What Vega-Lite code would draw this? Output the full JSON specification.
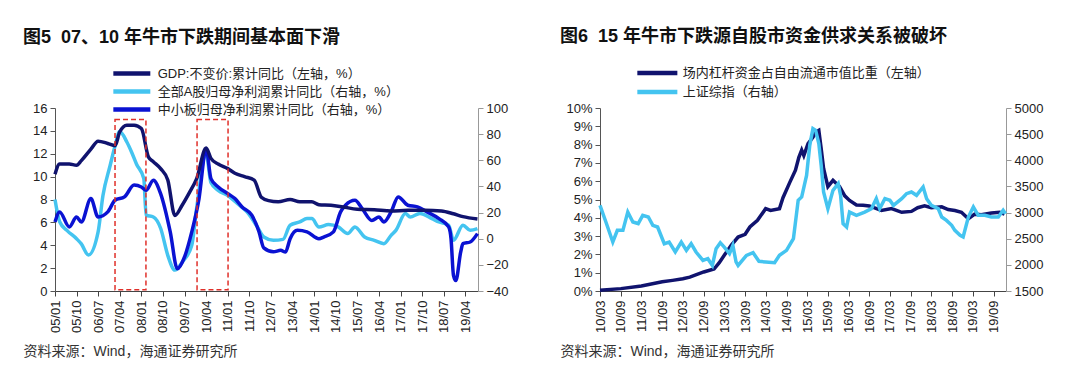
{
"$schema":"https://vega.github.io/schema/vega-lite/v6.json",
"background":"white",
"padding":{"left":23,"top":27,"right":10,"bottom":5},
"bounds":"flush",
"spacing":122,
"resolve":{"scale":{"x":"independent","y":"independent","color":"independent"},"legend":{"color":"independent"}},
"config":{
 "font":"Liberation Sans, Noto Sans CJK SC",
 "view":{"stroke":null},
 "axis":{"grid":false,"labelFont":"Liberation Sans","labelFontSize":13,"labelColor":"#222","domainColor":"#555","tickColor":"#555","tickSize":5,"labelPadding":3,"labelOverlap":false},
 "legend":{"orient":"none","title":null,"symbolStrokeWidth":4.5,"labelFont":"Liberation Sans, Noto Sans CJK SC","labelFontSize":13,"labelColor":"#222","labelLimit":400},
 "title":{"anchor":"start","frame":"group","fontSize":18,"fontWeight":"bold","color":"#111","font":"Liberation Sans, Noto Sans CJK SC"}
},
"datasets":{
 "gdp":[{"d":"2005/01/01","v":10.2},{"d":"2005/03/01","v":11.1},{"d":"2005/07/01","v":11.1},{"d":"2005/10/01","v":11.0},{"d":"2005/12/01","v":11.4},{"d":"2006/04/01","v":12.4},{"d":"2006/07/01","v":13.1},{"d":"2006/11/01","v":12.9},{"d":"2007/02/01","v":12.7},{"d":"2007/04/01","v":13.9},{"d":"2007/07/01","v":14.5},{"d":"2007/10/01","v":14.5},{"d":"2008/01/01","v":14.2},{"d":"2008/04/01","v":11.7},{"d":"2008/06/01","v":11.3},{"d":"2008/09/01","v":10.7},{"d":"2008/12/01","v":9.7},{"d":"2009/03/01","v":6.6},{"d":"2009/06/01","v":7.5},{"d":"2009/09/01","v":8.6},{"d":"2009/12/01","v":9.8},{"d":"2010/04/01","v":12.5},{"d":"2010/06/01","v":11.6},{"d":"2010/09/01","v":11.1},{"d":"2011/01/01","v":10.7},{"d":"2011/04/01","v":10.3},{"d":"2011/08/01","v":10.0},{"d":"2011/12/01","v":9.7},{"d":"2012/03/01","v":8.2},{"d":"2012/06/01","v":7.9},{"d":"2012/10/01","v":7.8},{"d":"2013/03/01","v":8.0},{"d":"2013/07/01","v":7.8},{"d":"2013/12/01","v":7.8},{"d":"2014/03/01","v":7.55},{"d":"2014/08/01","v":7.5},{"d":"2015/01/01","v":7.35},{"d":"2015/07/01","v":7.15},{"d":"2016/02/01","v":7.1},{"d":"2016/09/01","v":7.0},{"d":"2017/04/01","v":7.05},{"d":"2017/11/01","v":7.05},{"d":"2018/06/01","v":7.0},{"d":"2018/11/01","v":6.75},{"d":"2019/03/01","v":6.5},{"d":"2019/09/01","v":6.3}],
 "allA":[{"d":"2005/01/01","v":30},{"d":"2005/03/01","v":13},{"d":"2005/06/01","v":6.4},{"d":"2005/10/01","v":0},{"d":"2005/12/01","v":-4},{"d":"2006/03/01","v":-12.5},{"d":"2006/07/01","v":5},{"d":"2006/09/01","v":33},{"d":"2006/12/01","v":56},{"d":"2007/02/01","v":71},{"d":"2007/04/01","v":82},{"d":"2007/07/01","v":74},{"d":"2007/09/01","v":66},{"d":"2007/11/01","v":57},{"d":"2008/02/01","v":46},{"d":"2008/03/01","v":18},{"d":"2008/06/01","v":16.6},{"d":"2008/09/01","v":8},{"d":"2008/12/01","v":-12.7},{"d":"2009/03/01","v":-24},{"d":"2009/06/01","v":-18},{"d":"2009/10/01","v":-5},{"d":"2009/12/01","v":23},{"d":"2010/04/01","v":65},{"d":"2010/06/01","v":43},{"d":"2010/09/01","v":37},{"d":"2011/01/01","v":33},{"d":"2011/05/01","v":27},{"d":"2011/09/01","v":20.5},{"d":"2012/01/01","v":10},{"d":"2012/04/01","v":1.3},{"d":"2012/08/01","v":-1.2},{"d":"2012/12/01","v":-0.5},{"d":"2013/03/01","v":10.3},{"d":"2013/07/01","v":12.8},{"d":"2013/10/01","v":15.4},{"d":"2013/12/01","v":15.4},{"d":"2014/03/01","v":9},{"d":"2014/07/01","v":10.8},{"d":"2014/11/01","v":9},{"d":"2015/03/01","v":3.9},{"d":"2015/06/01","v":9},{"d":"2015/10/01","v":1.3},{"d":"2016/02/01","v":-1.2},{"d":"2016/06/01","v":-3.8},{"d":"2016/09/01","v":2.6},{"d":"2016/11/01","v":6.4},{"d":"2017/03/01","v":19.2},{"d":"2017/05/01","v":16.6},{"d":"2017/09/01","v":19.2},{"d":"2018/02/01","v":15.4},{"d":"2018/05/01","v":12.8},{"d":"2018/09/01","v":10.3},{"d":"2018/11/01","v":-1.2},{"d":"2019/03/01","v":10.3},{"d":"2019/06/01","v":6.4},{"d":"2019/09/01","v":7.7}],
 "sme":[{"d":"2005/01/01","v":12.8},{"d":"2005/03/01","v":20.5},{"d":"2005/07/01","v":9},{"d":"2005/10/01","v":16.6},{"d":"2005/12/01","v":12.8},{"d":"2006/04/01","v":30.7},{"d":"2006/07/01","v":16.6},{"d":"2006/11/01","v":20.5},{"d":"2007/02/01","v":29.4},{"d":"2007/06/01","v":32},{"d":"2007/10/01","v":41},{"d":"2008/01/01","v":39.6},{"d":"2008/03/01","v":37},{"d":"2008/06/01","v":44.7},{"d":"2008/09/01","v":34.5},{"d":"2009/01/01","v":5.2},{"d":"2009/04/01","v":-23},{"d":"2009/07/01","v":-14},{"d":"2009/10/01","v":5.2},{"d":"2010/01/01","v":30.7},{"d":"2010/04/01","v":69},{"d":"2010/06/01","v":46},{"d":"2010/09/01","v":39.6},{"d":"2011/01/01","v":34.5},{"d":"2011/04/01","v":30.7},{"d":"2011/07/01","v":24.3},{"d":"2011/11/01","v":18},{"d":"2012/02/01","v":5.2},{"d":"2012/04/01","v":-7},{"d":"2012/08/01","v":-10},{"d":"2012/11/01","v":-8.9},{"d":"2013/01/01","v":-10.2},{"d":"2013/03/01","v":0},{"d":"2013/06/01","v":6.4},{"d":"2013/10/01","v":5.2},{"d":"2014/03/01","v":0},{"d":"2014/05/01","v":1.3},{"d":"2014/09/01","v":5.2},{"d":"2014/12/01","v":20.5},{"d":"2015/02/01","v":25.6},{"d":"2015/06/01","v":29.4},{"d":"2015/09/01","v":23},{"d":"2016/01/01","v":14},{"d":"2016/04/01","v":16.6},{"d":"2016/06/01","v":12.8},{"d":"2016/09/01","v":20.5},{"d":"2016/12/01","v":32},{"d":"2017/04/01","v":25.6},{"d":"2017/08/01","v":24.3},{"d":"2017/12/01","v":20.5},{"d":"2018/05/01","v":15.4},{"d":"2018/09/01","v":9},{"d":"2018/10/01","v":0},{"d":"2018/11/01","v":-28},{"d":"2018/12/01","v":-32},{"d":"2019/02/01","v":-10},{"d":"2019/03/01","v":-3.8},{"d":"2019/06/01","v":-2.5},{"d":"2019/09/01","v":3.9}],
 "boxes":[{"a":"2007/02/01","b":"2008/02/28","lo":0.1,"hi":15},{"a":"2009/12/07","b":"2011/01/04","lo":0.1,"hi":15}],
 "lev":[{"d":"2010/03/01","v":0.04},{"d":"2010/09/01","v":0.13},{"d":"2011/03/01","v":0.27},{"d":"2011/09/01","v":0.5},{"d":"2011/12/01","v":0.58},{"d":"2012/03/01","v":0.67},{"d":"2012/05/01","v":0.76},{"d":"2012/09/01","v":1.04},{"d":"2012/12/01","v":1.2},{"d":"2013/01/16","v":1.55},{"d":"2013/03/01","v":1.95},{"d":"2013/05/01","v":2.5},{"d":"2013/07/01","v":2.95},{"d":"2013/09/01","v":3.1},{"d":"2013/10/13","v":3.5},{"d":"2013/12/19","v":3.86},{"d":"2014/03/01","v":4.5},{"d":"2014/04/13","v":4.4},{"d":"2014/07/01","v":4.5},{"d":"2014/08/01","v":5.1},{"d":"2014/10/01","v":5.95},{"d":"2014/11/19","v":6.6},{"d":"2014/12/19","v":7.3},{"d":"2015/01/13","v":7.7},{"d":"2015/02/01","v":7.4},{"d":"2015/03/10","v":8.05},{"d":"2015/04/22","v":8.4},{"d":"2015/05/22","v":8.7},{"d":"2015/06/13","v":8.78},{"d":"2015/07/04","v":7.78},{"d":"2015/07/25","v":6.7},{"d":"2015/09/01","v":5.7},{"d":"2015/10/16","v":6.05},{"d":"2015/12/13","v":5.7},{"d":"2016/01/28","v":5.2},{"d":"2016/03/10","v":4.95},{"d":"2016/05/10","v":4.7},{"d":"2016/07/07","v":4.68},{"d":"2016/09/01","v":4.65},{"d":"2016/12/16","v":4.4},{"d":"2017/03/16","v":4.5},{"d":"2017/06/13","v":4.3},{"d":"2017/09/07","v":4.35},{"d":"2017/11/01","v":4.55},{"d":"2018/01/01","v":4.65},{"d":"2018/03/01","v":4.55},{"d":"2018/06/01","v":4.6},{"d":"2018/07/28","v":4.45},{"d":"2018/09/25","v":4.4},{"d":"2018/11/22","v":4.3},{"d":"2019/01/22","v":3.95},{"d":"2019/03/19","v":4.2},{"d":"2019/05/16","v":4.17},{"d":"2019/08/13","v":4.26},{"d":"2019/10/25","v":4.3},{"d":"2019/12/07","v":4.2}],
 "sh":[{"d":"2010/03/01","v":3138},{"d":"2010/04/22","v":2820},{"d":"2010/06/22","v":2437},{"d":"2010/08/01","v":2660},{"d":"2010/09/19","v":2660},{"d":"2010/11/01","v":3010},{"d":"2010/12/16","v":2820},{"d":"2011/02/01","v":2790},{"d":"2011/03/13","v":2947},{"d":"2011/05/01","v":2915},{"d":"2011/06/10","v":2756},{"d":"2011/07/22","v":2724},{"d":"2011/09/19","v":2405},{"d":"2011/11/01","v":2437},{"d":"2011/12/25","v":2246},{"d":"2012/02/16","v":2437},{"d":"2012/04/01","v":2278},{"d":"2012/05/13","v":2405},{"d":"2012/06/25","v":2246},{"d":"2012/08/25","v":2086},{"d":"2012/10/07","v":2118},{"d":"2012/11/16","v":1990},{"d":"2012/12/19","v":2310},{"d":"2013/01/25","v":2424},{"d":"2013/03/01","v":2340},{"d":"2013/04/16","v":2214},{"d":"2013/05/16","v":2373},{"d":"2013/06/13","v":2055},{"d":"2013/07/01","v":1990},{"d":"2013/09/13","v":2182},{"d":"2013/11/10","v":2233},{"d":"2014/01/01","v":2067},{"d":"2014/03/01","v":2055},{"d":"2014/05/19","v":2042},{"d":"2014/07/01","v":2182},{"d":"2014/09/01","v":2278},{"d":"2014/11/01","v":2500},{"d":"2014/12/13","v":3234},{"d":"2015/01/13","v":3300},{"d":"2015/02/25","v":3712},{"d":"2015/03/25","v":4286},{"d":"2015/04/22","v":4605},{"d":"2015/05/16","v":4573},{"d":"2015/06/13","v":4318},{"d":"2015/07/04","v":3900},{"d":"2015/07/25","v":3393},{"d":"2015/09/01","v":3075},{"d":"2015/10/16","v":3425},{"d":"2015/12/01","v":3553},{"d":"2015/12/22","v":3330},{"d":"2016/01/13","v":2788},{"d":"2016/02/13","v":2724},{"d":"2016/03/10","v":3010},{"d":"2016/05/10","v":2947},{"d":"2016/07/22","v":3010},{"d":"2016/09/19","v":3075},{"d":"2016/11/01","v":3266},{"d":"2016/12/01","v":3075},{"d":"2017/01/16","v":3266},{"d":"2017/03/01","v":3234},{"d":"2017/04/01","v":3138},{"d":"2017/06/13","v":3266},{"d":"2017/07/25","v":3361},{"d":"2017/09/07","v":3393},{"d":"2017/10/22","v":3330},{"d":"2017/12/19","v":3490},{"d":"2018/01/19","v":3266},{"d":"2018/03/01","v":3138},{"d":"2018/05/01","v":3075},{"d":"2018/06/01","v":2915},{"d":"2018/07/13","v":2851},{"d":"2018/08/28","v":2756},{"d":"2018/09/25","v":2660},{"d":"2018/11/10","v":2565},{"d":"2018/12/07","v":2533},{"d":"2019/01/22","v":2915},{"d":"2019/03/07","v":3106},{"d":"2019/04/19","v":2947},{"d":"2019/06/16","v":2947},{"d":"2019/08/13","v":2915},{"d":"2019/10/13","v":2915},{"d":"2019/11/25","v":3043},{"d":"2019/12/16","v":2979}]
},
"hconcat":[
 {
  "width":423,"height":183,
  "title":{"text":"图5\u00a0\u00a007、10 年牛市下跌期间基本面下滑","dx":-32,"offset":18.5},
  "resolve":{"scale":{"y":"independent"}},
  "layer":[
   {"data":{"name":"allA"},"mark":{"type":"line","strokeWidth":3.5,"interpolate":"monotone"},
    "encoding":{
     "x":{"field":"d","type":"temporal","scale":{"domain":[{"year":2005,"month":1,"date":1},{"year":2019,"month":9,"date":8}]},
      "axis":{"tickCount":40,"values":[{"year":2005,"month":1,"date":1},{"year":2005,"month":10,"date":1},{"year":2006,"month":7,"date":1},{"year":2007,"month":4,"date":1},{"year":2008,"month":1,"date":1},{"year":2008,"month":10,"date":1},{"year":2009,"month":7,"date":1},{"year":2010,"month":4,"date":1},{"year":2011,"month":1,"date":1},{"year":2011,"month":10,"date":1},{"year":2012,"month":7,"date":1},{"year":2013,"month":4,"date":1},{"year":2014,"month":1,"date":1},{"year":2014,"month":10,"date":1},{"year":2015,"month":7,"date":1},{"year":2016,"month":4,"date":1},{"year":2017,"month":1,"date":1},{"year":2017,"month":10,"date":1},{"year":2018,"month":7,"date":1},{"year":2019,"month":4,"date":1}],
       "format":"%y/%m","labelAngle":-90,"labelPadding":4,"labelOverlap":false,"labelSeparation":0,"domainColor":"#444","tickColor":"#444",
       "title":"资料来源：Wind，海通证券研究所","titleX":-32,"titleY":60,"titleAlign":"left","titleBaseline":"middle","titleFontSize":14,"titleFontWeight":"normal","titleColor":"#333","titleFont":"Liberation Sans, Noto Sans CJK SC"}},
     "y":{"field":"v","type":"quantitative","scale":{"domain":[-40,100]},"axis":{"orient":"right","values":[-40,-20,0,20,40,60,80,100],"title":null,"domainColor":"#999","tickColor":"#999"}},
     "color":{"datum":"全部A股归母净利润累计同比（右轴，%）","scale":{"domain":["GDP:不变价:累计同比（左轴，%）","全部A股归母净利润累计同比（右轴，%）","中小板归母净利润累计同比（右轴，%）"],"range":["#10136e","#44c4f0","#0a12d2"]},
      "legend":{"legendX":56,"legendY":-43,"symbolType":"M-1,0H5","symbolSize":152,"labelOffset":29.7,"rowPadding":-2.5}}
    }},
   {"data":{"name":"sme"},"mark":{"type":"line","strokeWidth":3.5,"interpolate":"monotone"},
    "encoding":{
     "x":{"field":"d","type":"temporal","scale":{"domain":[{"year":2005,"month":1,"date":1},{"year":2019,"month":9,"date":8}]}},
     "y":{"field":"v","type":"quantitative","scale":{"domain":[-40,100]},"axis":null},
     "color":{"datum":"中小板归母净利润累计同比（右轴，%）"}
    }},
   {"data":{"name":"gdp"},"mark":{"type":"line","strokeWidth":3.5,"interpolate":"monotone"},
    "encoding":{
     "x":{"field":"d","type":"temporal","scale":{"domain":[{"year":2005,"month":1,"date":1},{"year":2019,"month":9,"date":8}]}},
     "y":{"field":"v","type":"quantitative","scale":{"domain":[0,16]},"axis":{"orient":"left","values":[0,2,4,6,8,10,12,14,16],"title":null}},
     "color":{"datum":"GDP:不变价:累计同比（左轴，%）"}
    }},
   {"data":{"name":"boxes"},"mark":{"type":"rect","fill":"transparent","stroke":"#e0302a","strokeWidth":1.5,"strokeDash":[5,3]},
    "encoding":{
     "x":{"field":"a","type":"temporal","scale":{"domain":[{"year":2005,"month":1,"date":1},{"year":2019,"month":9,"date":8}]}},
     "x2":{"field":"b"},
     "y":{"field":"lo","type":"quantitative","scale":{"domain":[0,16]},"axis":null},
     "y2":{"field":"hi"}
    }}
  ]
 },
 {
  "width":406,"height":183,
  "title":{"text":"图6\u00a0\u00a015 年牛市下跌源自股市资金供求关系被破坏","dx":-40,"offset":18.5},
  "resolve":{"scale":{"y":"independent"}},
  "layer":[
   {"data":{"name":"lev"},"mark":{"type":"line","strokeWidth":3.5},
    "encoding":{
     "x":{"field":"d","type":"temporal","scale":{"domain":[{"year":2010,"month":3,"date":1},{"year":2019,"month":12,"date":20}]},
      "axis":{"tickCount":40,"values":[{"year":2010,"month":3,"date":1},{"year":2010,"month":9,"date":1},{"year":2011,"month":3,"date":1},{"year":2011,"month":9,"date":1},{"year":2012,"month":3,"date":1},{"year":2012,"month":9,"date":1},{"year":2013,"month":3,"date":1},{"year":2013,"month":9,"date":1},{"year":2014,"month":3,"date":1},{"year":2014,"month":9,"date":1},{"year":2015,"month":3,"date":1},{"year":2015,"month":9,"date":1},{"year":2016,"month":3,"date":1},{"year":2016,"month":9,"date":1},{"year":2017,"month":3,"date":1},{"year":2017,"month":9,"date":1},{"year":2018,"month":3,"date":1},{"year":2018,"month":9,"date":1},{"year":2019,"month":3,"date":1},{"year":2019,"month":9,"date":1}],
       "format":"%y/%m","labelAngle":-90,"labelPadding":4,"labelOverlap":false,"labelSeparation":0,"domainColor":"#444","tickColor":"#444",
       "title":"资料来源：Wind，海通证券研究所","titleX":-40,"titleY":60,"titleAlign":"left","titleBaseline":"middle","titleFontSize":14,"titleFontWeight":"normal","titleColor":"#333","titleFont":"Liberation Sans, Noto Sans CJK SC"}},
     "y":{"field":"v","type":"quantitative","scale":{"domain":[0,10]},"axis":{"orient":"left","values":[0,1,2,3,4,5,6,7,8,9,10],"labelExpr":"datum.value + '%'","title":null}},
     "color":{"datum":"场内杠杆资金占自由流通市值比重（左轴）","scale":{"domain":["场内杠杆资金占自由流通市值比重（左轴）","上证综指（右轴）"],"range":["#10136e","#44c4f0"]},
      "legend":{"legendX":35,"legendY":-44,"symbolType":"M-1,0H5","symbolSize":178,"labelOffset":29.7,"rowPadding":1}}
    }},
   {"data":{"name":"sh"},"mark":{"type":"line","strokeWidth":3.5},
    "encoding":{
     "x":{"field":"d","type":"temporal","scale":{"domain":[{"year":2010,"month":3,"date":1},{"year":2019,"month":12,"date":20}]}},
     "y":{"field":"v","type":"quantitative","scale":{"domain":[1500,5000]},"axis":{"orient":"right","values":[1500,2000,2500,3000,3500,4000,4500,5000],"format":"d","title":null,"domainColor":"#999","tickColor":"#999"}},
     "color":{"datum":"上证综指（右轴）"}
    }}
  ]
 }
]
}
